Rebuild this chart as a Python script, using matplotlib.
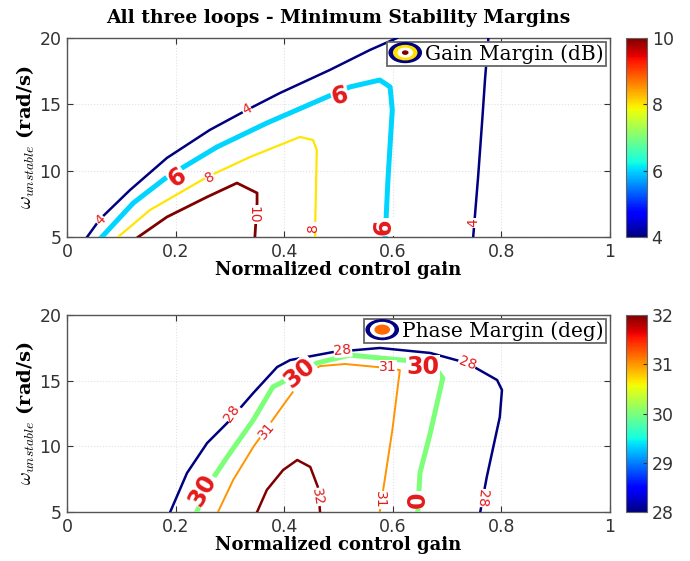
import numpy as np
import matplotlib
matplotlib.use("Agg")
import matplotlib.pyplot as plt
from matplotlib.patches import Ellipse
from matplotlib.legend_handler import HandlerBase
from matplotlib.lines import Line2D

plt.rcParams['font.family'] = ['DejaVu Sans']
plt.rcParams['mathtext.fontset'] = 'cm'

# ---- Gain margin contours (dB) ----
gm4a_x = [0.037, 0.061, 0.116, 0.184, 0.263, 0.331, 0.392, 0.484, 0.558, 0.608]
gm4a_y = [5.0, 6.36, 8.54, 10.96, 13.07, 14.57, 15.85, 17.59, 19.10, 20.0]
gm4b_x = [0.776, 0.770, 0.765, 0.757, 0.748]
gm4b_y = [20.0, 17.0, 14.0, 9.5, 5.0]
gm6_x = [0.064, 0.122, 0.184, 0.276, 0.368, 0.521, 0.576, 0.595, 0.599, 0.591, 0.586]
gm6_y = [5.0, 7.56, 9.52, 11.78, 13.59, 16.31, 16.83, 16.31, 14.57, 9.30, 5.0]
gm8_x = [0.094, 0.153, 0.258, 0.337, 0.429, 0.453, 0.460, 0.457, 0.457]
gm8_y = [5.0, 7.04, 9.52, 11.03, 12.54, 12.31, 11.56, 5.75, 5.0]
gm10_x = [0.131, 0.184, 0.258, 0.313, 0.350, 0.350, 0.346]
gm10_y = [5.0, 6.51, 8.02, 9.07, 8.32, 7.56, 5.0]

gm_lines = [(4, gm4a_x, gm4a_y), (4, gm4b_x, gm4b_y), (6, gm6_x, gm6_y),
            (8, gm8_x, gm8_y), (10, gm10_x, gm10_y)]
gm_width = {4: 1.8, 6: 3.6, 8: 1.6, 10: 2.0}

gm_lab_text = ['4', '4', '6', '6', '6', '8', '8', '10', '4']
gm_lab_x = [0.061, 0.331, 0.203, 0.503, 0.582, 0.263, 0.453, 0.343, 0.748]
gm_lab_y = [6.3, 14.6, 9.5, 15.6, 5.75, 9.5, 5.75, 6.7, 6.05]
gm_lab_rot = [45, 30, 35, 15, 90, 30, 90, -90, 90]
gm_lab_big = [False, False, True, True, True, False, False, False, False]

# ---- Phase margin contours (deg) ----
pm28_x = [0.190, 0.221, 0.258, 0.295, 0.343, 0.387, 0.411, 0.490, 0.576, 0.669,
          0.737, 0.792, 0.801, 0.797, 0.773, 0.761]
pm28_y = [5.0, 7.97, 10.25, 11.78, 14.06, 16.04, 16.57, 17.18, 17.49, 17.11,
          16.34, 15.05, 14.29, 12.23, 7.66, 5.0]
pm30_x = [0.239, 0.258, 0.295, 0.343, 0.379, 0.429, 0.460, 0.521, 0.576, 0.656,
          0.681, 0.692, 0.669, 0.650, 0.646]
pm30_y = [5.0, 6.90, 9.19, 12.00, 14.52, 15.58, 16.34, 16.95, 16.73, 16.42,
          15.81, 15.20, 11.02, 7.97, 5.0]
pm31_x = [0.278, 0.306, 0.343, 0.405, 0.442, 0.466, 0.512, 0.571, 0.613, 0.599, 0.576]
pm31_y = [5.0, 7.44, 9.95, 13.53, 15.58, 16.11, 16.27, 16.04, 15.81, 11.2, 5.0]
pm32_x = [0.350, 0.368, 0.398, 0.424, 0.448, 0.462, 0.466]
pm32_y = [5.0, 6.68, 8.20, 8.96, 8.43, 6.90, 5.0]

pm_lines = [(28, pm28_x, pm28_y), (30, pm30_x, pm30_y),
            (31, pm31_x, pm31_y), (32, pm32_x, pm32_y)]
pm_width = {28: 1.8, 30: 3.6, 31: 1.4, 32: 1.8}

pm_lab_text = ['28', '28', '28', '28', '30', '30', '30', '0', '31', '31', '31', '32']
pm_lab_x = [0.304, 0.508, 0.737, 0.764, 0.250, 0.429, 0.656, 0.646, 0.368, 0.591, 0.576, 0.462]
pm_lab_y = [12.54, 17.33, 16.34, 6.07, 6.68, 15.58, 16.04, 5.9, 11.16, 16.04, 5.9, 6.14]
pm_lab_rot = [55, 5, -20, -95, 60, 40, 0, 90, 50, 0, -90, -80]
pm_lab_big = [False, False, False, False, True, True, True, True, False, False, False, False]

x_ticks = [0, 0.2, 0.4, 0.6, 0.8, 1]
y_ticks = [5, 10, 15, 20]

cmap = plt.get_cmap('jet')
lab_red = '#e41a1c'
serif = 'DejaVu Serif'


class RingHandler(HandlerBase):
    def __init__(self, colors):
        super().__init__()
        self.colors = colors

    def create_artists(self, legend, orig_handle, xdescent, ydescent,
                       width, height, fontsize, trans):
        cx = width / 2 - xdescent
        cy = height / 2 - ydescent
        arts = []
        for i, c in enumerate(self.colors):
            s = 1.0 - 0.28 * i
            e = Ellipse((cx, cy), width * s, height * 1.4 * s,
                        facecolor=c, edgecolor=c, transform=trans)
            arts.append(e)
        return arts


def draw_panel(ax, cax, lines, widths, vmin, vmax, labs, cticks, legend_text, ring_colors):
    norm = plt.Normalize(vmin, vmax)
    for lev, xs, ys in lines:
        ax.plot(xs, ys, color=cmap(norm(lev)), lw=widths[lev], solid_joinstyle='round',
                zorder=3)
    for t, x, y, r, big in zip(*labs):
        ax.text(x, y, t, rotation=r, ha='center', va='center', color=lab_red,
                fontsize=17 if big else 10, fontweight='bold' if big else 'normal',
                bbox=dict(facecolor='white', edgecolor='none', pad=0.3),
                zorder=4, clip_on=True)
    ax.set_xlim(0, 1)
    ax.set_ylim(5, 20)
    ax.set_xticks(x_ticks)
    ax.set_xticklabels(['0', '0.2', '0.4', '0.6', '0.8', '1'])
    ax.set_yticks(y_ticks)
    ax.grid(True, color='#e2e2e2', linestyle=':', linewidth=0.8)
    ax.tick_params(direction='in', top=True, right=True, length=4, labelsize=12.5,
                   colors='#333333')
    ax.tick_params(axis='x', pad=4)
    ax.tick_params(axis='y', pad=4)
    for sp in ax.spines.values():
        sp.set_color('#555555')
        sp.set_linewidth(1.0)
    ax.set_xlabel('Normalized control gain', fontsize=13, fontfamily=serif,
                  fontweight='bold', labelpad=0)
    ax.set_ylabel(r'$\omega_{unstable}$ (rad/s)', fontsize=14, fontfamily=serif,
                  fontweight='bold', labelpad=2)

    handle = Line2D([], [])
    leg = ax.legend([handle], [legend_text], loc='upper right',
                    handler_map={Line2D: RingHandler(ring_colors)},
                    prop={'family': serif, 'size': 14.5},
                    fancybox=False, edgecolor='#666666', framealpha=1,
                    borderpad=0.1, handlelength=1.6, handletextpad=0.2,
                    borderaxespad=0.2)
    leg.get_frame().set_linewidth(1.3)
    leg.set_zorder(6)

    sm = plt.cm.ScalarMappable(norm=norm, cmap=cmap)
    cb = plt.colorbar(sm, cax=cax, ticks=cticks)
    cb.outline.set_edgecolor('#666666')
    cax.tick_params(labelsize=12.5, colors='#333333', length=3, direction='in')


fig = plt.figure(figsize=(6.9, 5.61), dpi=100)
ax1 = fig.add_axes([0.0971, 0.5775, 0.787, 0.3548])
cax1 = fig.add_axes([0.907, 0.5775, 0.0304, 0.3548])
ax2 = fig.add_axes([0.0971, 0.0873, 0.787, 0.3512])
cax2 = fig.add_axes([0.907, 0.0873, 0.0304, 0.3512])

draw_panel(ax1, cax1, gm_lines, gm_width, 4, 10,
           (gm_lab_text, gm_lab_x, gm_lab_y, gm_lab_rot, gm_lab_big),
           [4, 6, 8, 10], 'Gain Margin (dB)',
           [cmap(0.0), cmap(0.67), 'white', cmap(1.0)])
draw_panel(ax2, cax2, pm_lines, pm_width, 28, 32,
           (pm_lab_text, pm_lab_x, pm_lab_y, pm_lab_rot, pm_lab_big),
           [28, 29, 30, 31, 32], 'Phase Margin (deg)',
           [cmap(0.0), 'white', cmap(0.8)])

ax1.set_title('All three loops - Minimum Stability Margins', fontsize=13.5,
              fontfamily=serif, fontweight='bold', pad=11)

fig.savefig('out.png', dpi=100)
